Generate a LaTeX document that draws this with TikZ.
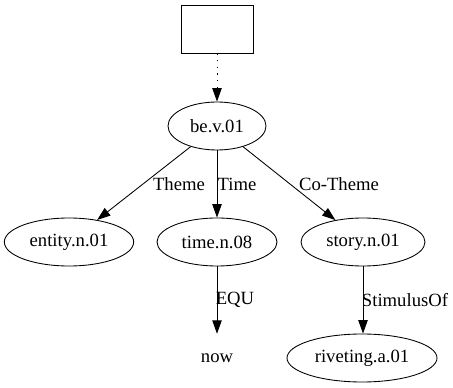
\documentclass[tikz,border=0pt]{standalone}
\usepackage{fontspec}
\setmainfont{Liberation Serif}
\usetikzlibrary{arrows.meta, positioning, shapes.geometric}

\begin{document}
\begin{tikzpicture}[
      x=0.75pt, y=-0.75pt,
      font=\fontsize{14}{16}\selectfont,
      sense/.style={ellipse, draw, line width=0.65pt, inner sep=0pt, minimum height=36pt},
      root/.style={rectangle, draw, line width=0.65pt, minimum width=54pt, minimum height=36pt},
      plain/.style={inner sep=0pt, minimum height=36pt},
      rel/.style={-{Triangle[length=10pt, width=7pt]}, line width=0.65pt},
      lbl/.style={inner sep=0pt}
    ]
      \useasboundingbox (0,0) rectangle (453,388);

      \node[root] (R) at (217, 29) {};

      \node[sense, minimum width=73.5pt] (BE) at (217, 126) {be.v.01};

      \node[sense, minimum width=97pt] (ENT) at (69, 242) {entity.n.01};
      \node[sense, minimum width=90pt] (TIME) at (217, 242) {time.n.08};
      \node[sense, minimum width=93pt] (STORY) at (363, 242) {story.n.01};

      \node[plain] (NOW) at (217, 358) {now};
      \node[sense, minimum width=112.5pt] (RIV) at (362, 358) {riveting.a.01};

      \draw[rel, dash pattern=on 1pt off 4pt] (R) -- (BE);

      \draw[rel] (BE) -- (ENT);
      \draw[rel] (BE) -- (TIME);
      \draw[rel] (BE) -- (STORY);
      \draw[rel] (TIME) -- (NOW);
      \draw[rel] (STORY.south) -- (STORY.south |- RIV.north);

      \node[lbl] (lTheme) at (179, 184) {Theme};
      \node[lbl] (lTime) at (237, 184) {Time};
      \node[lbl] (lCo) at (339, 184) {Co-Theme};
      \node[lbl] (lEqu) at (235, 300) {EQU};
      \node[lbl] (lStim) at (405, 300) {StimulusOf};
    \end{tikzpicture}
\end{document}
